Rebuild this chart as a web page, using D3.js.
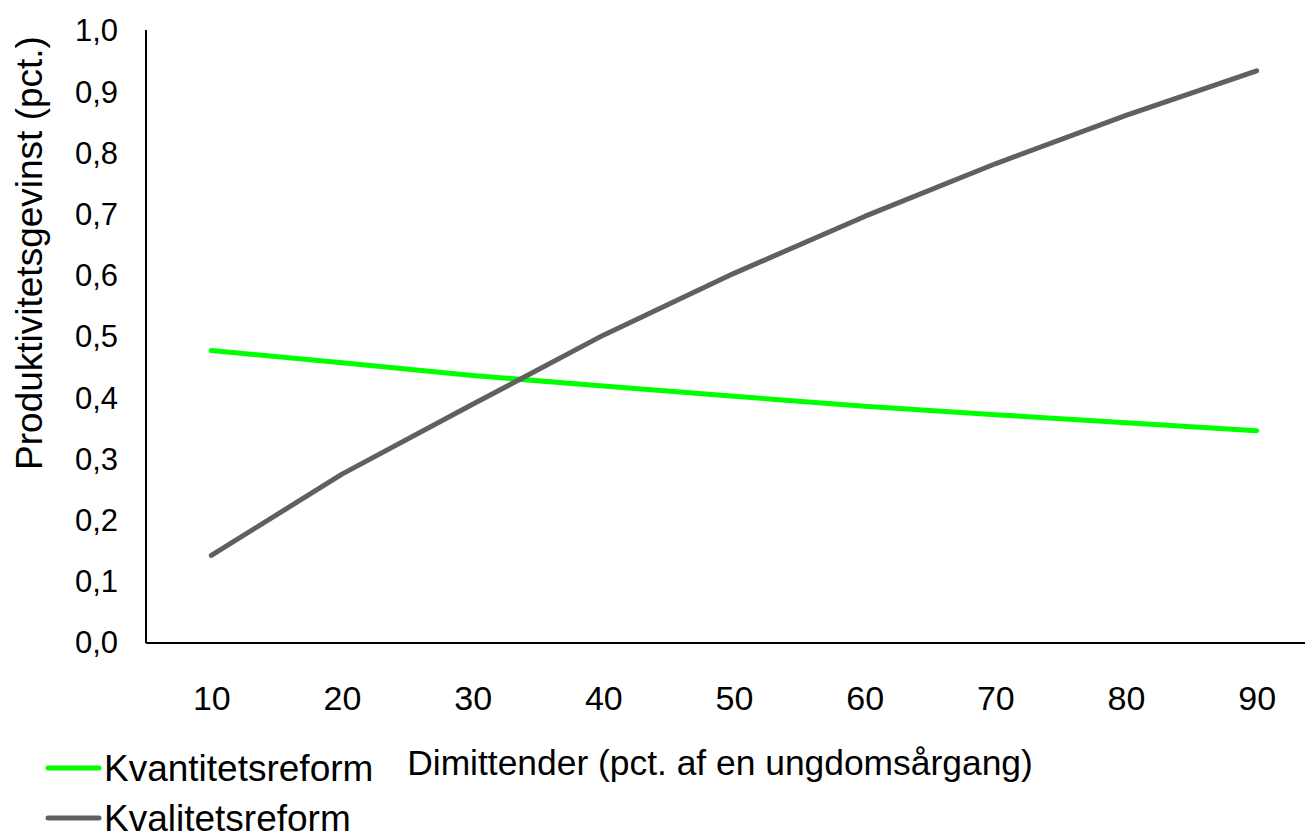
<!DOCTYPE html>
<html>
<head>
<meta charset="utf-8">
<script src="https://cdn.jsdelivr.net/npm/d3@7"></script>
<style>
  html, body { margin: 0; padding: 0; background: #fff; }
  svg { display: block; font-family: "Liberation Sans", Arial, sans-serif; }
</style>
</head>
<body>
<svg id="chart" width="1305" height="832"></svg>
<script>
// ---- data ----
const categories = [10, 20, 30, 40, 50, 60, 70, 80, 90];
const kvantitetsreform = [0.478, 0.458, 0.437, 0.420, 0.403, 0.387, 0.373, 0.360, 0.347];
const kvalitetsreform  = [0.143, 0.276, 0.390, 0.503, 0.604, 0.697, 0.783, 0.862, 0.935];
const yTicks = [0, 0.1, 0.2, 0.3, 0.4, 0.5, 0.6, 0.7, 0.8, 0.9, 1.0];
const seriesNames = ["Kvantitetsreform", "Kvalitetsreform"];
const seriesColors = ["#00ff00", "#606060"];
const xTitle = "Dimittender (pct. af en ungdomsårgang)";
const yTitle = "Produktivitetsgevinst (pct.)";

// ---- layout ----
const svg = d3.select("#chart");
const left = 146, axisY = 643, topY = 31, rightEnd = 1322;

const x = d3.scalePoint().domain(categories).range([left, rightEnd]).padding(0.5);
const y = d3.scaleLinear().domain([0, 1]).range([axisY, topY]);

const locale = d3.formatLocale({decimal: ",", thousands: ".", grouping: [3], currency: ["", " kr"]});
const fmt = locale.format(".1f");

// y axis
const yAxis = svg.append("g")
  .attr("transform", `translate(${left},0)`)
  .call(d3.axisLeft(y).tickValues(yTicks).tickFormat(fmt).tickSize(0).tickPadding(28));
yAxis.select(".domain").attr("d", `M0,${topY - 1}V${axisY}`).attr("stroke", "#000").attr("stroke-width", 2);
yAxis.selectAll("text").attr("font-size", 31).attr("fill", "#000")
  .attr("font-family", "Liberation Sans, Arial, sans-serif");

// x axis
const xAxis = svg.append("g")
  .attr("transform", `translate(0,${axisY})`)
  .call(d3.axisBottom(x).tickSize(0).tickPadding(43));
xAxis.select(".domain").attr("d", `M${left},0H${rightEnd}`).attr("stroke", "#000").attr("stroke-width", 2);
xAxis.selectAll("text").attr("font-size", 34).attr("fill", "#000")
  .attr("font-family", "Liberation Sans, Arial, sans-serif");

// lines
const line = d3.line().x((d, i) => x(categories[i])).y(d => y(d));
[kvantitetsreform, kvalitetsreform].forEach((vals, k) => {
  svg.append("path")
    .datum(vals)
    .attr("d", line)
    .attr("fill", "none")
    .attr("stroke", seriesColors[k])
    .attr("stroke-width", 5)
    .attr("stroke-linecap", "round")
    .attr("stroke-linejoin", "round");
});

// axis titles
svg.append("text")
  .attr("x", 720).attr("y", 775)
  .attr("text-anchor", "middle")
  .attr("font-size", 35.4)
  .attr("fill", "#000")
  .text(xTitle);

svg.append("text")
  .attr("transform", `translate(42,253) rotate(-90)`)
  .attr("text-anchor", "middle")
  .attr("font-size", 37)
  .attr("fill", "#000")
  .text(yTitle);

// legend
const legend = svg.append("g");
seriesNames.forEach((name, k) => {
  const cy = 768 + k * 50;
  legend.append("line")
    .attr("x1", 48).attr("x2", 99).attr("y1", cy).attr("y2", cy)
    .attr("stroke", seriesColors[k]).attr("stroke-width", 5)
    .attr("stroke-linecap", "round");
  legend.append("text")
    .attr("x", 104).attr("y", cy + 13)
    .attr("font-size", 37)
    .attr("fill", "#000")
    .text(name);
});
</script>
</body>
</html>
